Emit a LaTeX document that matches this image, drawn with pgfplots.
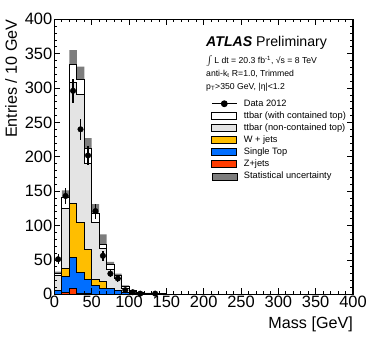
\documentclass[border=0pt]{standalone}
\usepackage{fontspec}
\setmainfont{Liberation Sans}
\usepackage{pgfplots}
\usepackage{pgfplotstable}
\pgfplotsset{compat=1.18}

\definecolor{ttlight}{RGB}{228,228,228}
\definecolor{wjets}{RGB}{255,190,0}
\definecolor{stop}{RGB}{0,110,255}
\definecolor{zjets}{RGB}{255,60,0}
\definecolor{statunc}{RGB}{125,125,125}

\pgfplotsset{
    boxlegend/.style={legend image code/.code={\draw[##1] (0bp,-3.4bp) rectangle (25bp,3.4bp);}},
    datalegend/.style={legend image code/.code={\draw[mark repeat=2,mark phase=2,##1] plot coordinates {(0bp,0bp) (12.5bp,0bp) (25bp,0bp)};}},
}

% cumulative stack tops per 10 GeV bin (left edge), up = total + stat. unc.
\pgfplotstableread{
x   z    st   w    nc    tot   up
0   0.3  5    5    27    30    33
10  2    26   38   125   141   151
20  8    53   132  308   334   355
30  1    32   104  290   312   331
40  0.5  22   65   190   212   227
50  0.3  13   22   104   117   131
60  0.2  8    19   66    73    87
70  0.2  9    9    36    43    47
80  0    5    5    23    27    30
90  0    2    2    9     11    13
100 0    1    1    4     5     6
110 0    0.5  0.5  2     2.5   3
120 0    0    0    1     1.5   2
130 0    0    0    0.5   1     1.5
140 0    0    0    0.3   0.6   1
150 0    0    0    0.3   0.6   1
}\stack

\pgfplotstableread{
x    y    e
5    51   7.1
15   143  12
25   296  17.2
35   240  15.5
45   202  14.2
55   121  11
65   56   7.5
75   30   5.5
85   23   4.8
95   6    2.4
105  3    1.7
115  1    1
135  1    1
}\data

\newcommand\tickfont{\fontsize{16.5}{18}\selectfont}
\newcommand\labfont{\fontsize{16.2}{18}\selectfont}
\newcommand\legfont{\fontsize{9.3}{11}\selectfont}
\newcommand\infofont{\fontsize{8.7}{10}\selectfont}

\begin{document}
\begin{tikzpicture}
\path (-54.4bp,-56.7bp) rectangle (319.6bp,294.3bp);
\begin{axis}[
    at={(0,0)}, anchor=south west,
    scale only axis,
    width=298.6bp, height=275bp,
    xmin=0, xmax=400, ymin=0, ymax=400,
    xtick={0,50,...,400}, ytick={0,50,...,400},
    minor tick num=4,
    tick align=inside,
    major tick length=6bp, minor tick length=3bp,
    every tick/.style={black, line width=0.8bp},
    axis line style={line width=1.1bp},
    axis on top,
    clip=false,
    /pgf/number format/assume math mode=true,
    ticklabel style={font=\tickfont, inner sep=1bp},
    xticklabel style={yshift=-1bp},
    yticklabel style={xshift=-1bp},
    xlabel={Mass [GeV]},
    ylabel={Entries / 10 GeV},
    xlabel style={font=\labfont, at={(axis description cs:1,-0.0815)}, anchor=north east, inner sep=0pt},
    ylabel style={font=\labfont, at={(axis description cs:-0.1654,1)}, anchor=north east, inner sep=0pt},
    legend style={draw=none, fill=none, at={(rel axis cs:0.5244,0.7095)}, anchor=north west,
        inner sep=0pt, row sep=3.4bp, column sep=6.5bp, font=\legfont,
        nodes={inner sep=0pt, text height=6.8bp, text depth=1.9bp}},
    legend cell align=left,
]
% legend entries in ROOT order
\addlegendimage{datalegend, black, line width=1.2bp, mark=*, mark size=2.8bp}
\addlegendentry{Data 2012}
\addlegendimage{boxlegend, draw=black, fill=white, line width=1bp}
\addlegendentry{ttbar (with contained top)}
\addlegendimage{boxlegend, draw=black, fill=ttlight, line width=1bp}
\addlegendentry{ttbar (non-contained top)}
\addlegendimage{boxlegend, draw=black, fill=wjets, line width=1bp}
\addlegendentry{W + jets}
\addlegendimage{boxlegend, draw=black, fill=stop, line width=1bp}
\addlegendentry{Single Top}
\addlegendimage{boxlegend, draw=black, fill=zjets, line width=1bp}
\addlegendentry{Z+jets}
\addlegendimage{boxlegend, draw=none, fill=statunc}
\addlegendentry{Statistical uncertainty}

% stat. uncertainty band (lower half hidden by the stack)
\addplot[const plot, draw=none, fill=statunc, forget plot] table[x=x, y=up] {\stack} \closedcycle;
% stack
\addplot[const plot, draw=black, line width=1.1bp, fill=white, forget plot] table[x=x, y=tot] {\stack} \closedcycle;
\addplot[const plot, draw=black, line width=1.1bp, fill=ttlight, forget plot] table[x=x, y=nc] {\stack} \closedcycle;
\addplot[const plot, draw=black, line width=1.1bp, fill=wjets, forget plot] table[x=x, y=w] {\stack} \closedcycle;
\addplot[const plot, draw=black, line width=1.1bp, fill=stop, forget plot] table[x=x, y=st] {\stack} \closedcycle;
\addplot[const plot, draw=black, line width=1.1bp, fill=zjets, forget plot] table[x=x, y=z] {\stack} \closedcycle;
% data
\addplot[only marks, mark=*, mark size=2.8bp, black, forget plot,
    error bars/.cd, y dir=both, y explicit, error bar style={line width=1.2bp}, error mark=none]
    table[x=x, y=y, y error=e] {\data};

\node[anchor=base west, inner sep=0pt] at (rel axis cs:0.5077,0.9004)
    {\fontsize{14.2}{16}\selectfont\textbf{\textit{ATLAS}} Preliminary};
\node[anchor=base west, inner sep=0pt, font=\infofont] at (rel axis cs:0.5077,0.838)
    {{\fontsize{11.5}{12}\selectfont$\int$}\,L dt = 20.3 fb\textsuperscript{-1}, √s = 8 TeV};
\node[anchor=base west, inner sep=0pt, font=\infofont] at (rel axis cs:0.5077,0.7938)
    {anti-k\textsubscript{t} R=1.0, Trimmed};
\node[anchor=base west, inner sep=0pt, font=\infofont] at (rel axis cs:0.5077,0.7447)
    {p\textsubscript{T}>350 GeV, |η|<1.2};
\end{axis}
\end{tikzpicture}
\end{document}
